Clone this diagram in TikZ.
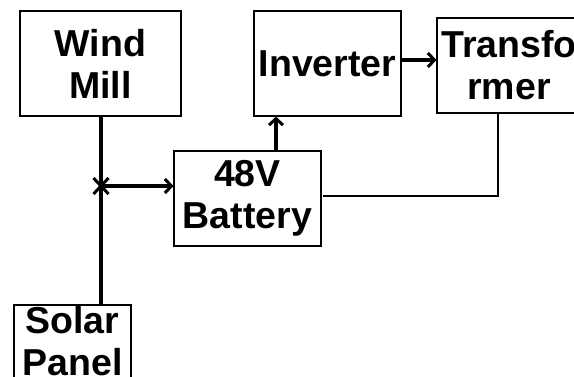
\documentclass[tikz,border=0pt]{standalone}
\usepackage{fontspec}
\setmainfont{Liberation Sans}
\usetikzlibrary{arrows.meta,shapes.misc}
\begin{document}
\begin{tikzpicture}[x=1pt,y=-1pt,
  box/.style={draw, line width=1.1pt, rectangle, inner sep=0pt, align=center,
    font=\fontsize{37.5}{42}\selectfont\bfseries},
  heavy/.style={line width=3.2pt},
  flow/.style={heavy, -{Straight Barb[length=6.5pt,width=14pt,line width=3pt]}},
  light/.style={line width=1.1pt}]
\clip (0,0) rectangle (574,376);
\fill[white] (0,0) rectangle (574,376);
\node[box, minimum width=161pt, minimum height=105pt] (wm) at (100.5,63.5) {Wind\\Mill};
\node[box, minimum width=147pt, minimum height=105pt] (inv) at (327.5,63.5) {Inverter};
\node[box, minimum width=144pt, minimum height=95pt] (tr) at (509,65.5) {Transfo\\rmer};
\node[box, minimum width=147pt, minimum height=95pt] (bat) at (247.5,198.5) {48V\\Battery};
\node[box, minimum width=117pt, minimum height=73pt] (sp) at (72.5,341.5) {Solar\\Panel};
\node[cross out, draw, line width=3pt, minimum width=12pt, minimum height=13pt, inner sep=0pt] (jn) at (101,186) {};
\coordinate (bx) at (276,0);
\coordinate (iy) at (0,60);
\coordinate (c1) at (498,196);
\draw[heavy] (wm.south -| jn) -- (sp.north -| jn);
\draw[flow] (jn.center) -- (bat.west |- jn);
\draw[flow] (bat.north -| bx) -- (inv.south -| bx);
\draw[flow] (inv.east |- iy) -- (tr.west |- iy);
\draw[light] (tr.south -| c1) -- (c1) -- ([xshift=1.5pt]bat.east |- c1);
\end{tikzpicture}
\end{document}
